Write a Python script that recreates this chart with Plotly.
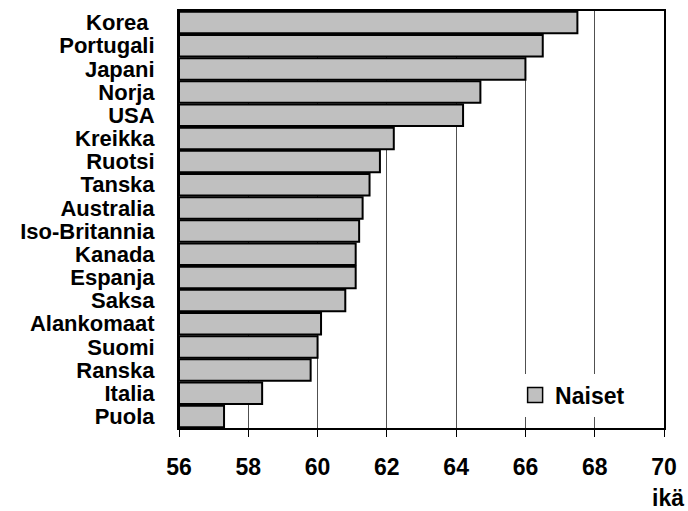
import plotly.graph_objects as go

# Countries, top to bottom, and the women's average effective retirement age
countries = ["Korea ", "Portugali", "Japani", "Norja", "USA", "Kreikka", "Ruotsi",
             "Tanska", "Australia", "Iso-Britannia", "Kanada", "Espanja", "Saksa",
             "Alankomaat", "Suomi", "Ranska", "Italia", "Puola"]
naiset = [67.5, 66.5, 66.0, 64.7, 64.2, 62.2, 61.8, 61.5, 61.3, 61.2, 61.1, 61.1,
          60.8, 60.1, 60.0, 59.8, 58.4, 57.3]
x_ticks = [56, 58, 60, 62, 64, 66, 68, 70]
series_name = "Naiset"
x_title = "ikä"

FONT = "Liberation Sans, Arial, sans-serif"
BAR_FILL = "#c0c0c0"

fig = go.Figure()
fig.add_trace(go.Bar(
    y=countries,
    x=[v - x_ticks[0] for v in naiset],
    base=x_ticks[0],
    orientation="h",
    name=series_name,
    marker=dict(color=BAR_FILL, line=dict(color="black", width=2)),
    showlegend=False,
))
# legend entry with a larger square swatch than the default bar symbol
fig.add_trace(go.Scatter(
    x=[None], y=[None], mode="markers", name=series_name,
    marker=dict(symbol="square", size=15, color=BAR_FILL,
                line=dict(color="black", width=1.5)),
    showlegend=True, hoverinfo="skip",
))

fig.update_layout(
    width=688, height=511,
    margin=dict(l=179, r=24, t=9, b=83),
    paper_bgcolor="white", plot_bgcolor="white",
    bargap=0.07,
    font=dict(family=FONT, color="black"),
    showlegend=True,
    legend=dict(
        x=0.693, y=0.079, xanchor="left", yanchor="middle",
        bgcolor="white", borderwidth=0, itemsizing="trace",
        font=dict(family=FONT, size=23, color="black", weight="bold"),
    ),
    xaxis=dict(
        range=[x_ticks[0], x_ticks[-1]],
        tickmode="array",
        tickvals=x_ticks,
        ticktext=[str(t) for t in x_ticks],
        tickfont=dict(family=FONT, size=23, color="black", weight="bold"),
        ticks="outside", ticklen=7, tickwidth=1, tickcolor="black",
        ticklabelstandoff=10,
        showgrid=True, gridcolor="#505050", gridwidth=1,
        showline=True, linecolor="black", linewidth=2, mirror=True,
        zeroline=False,
    ),
    yaxis=dict(
        autorange="reversed",
        tickmode="array",
        tickvals=countries,
        ticktext=countries,
        tickfont=dict(family=FONT, size=22, color="black", weight="bold"),
        ticks="", ticklabelstandoff=18,
        showgrid=False,
        showline=True, linecolor="black", linewidth=2, mirror=True,
    ),
    annotations=[dict(
        text=x_title, xref="paper", yref="paper",
        x=1.008, y=-0.1675, xanchor="center", yanchor="middle",
        showarrow=False,
        font=dict(family=FONT, size=23, color="black", weight="bold"),
    )],
)

fig.write_html("out.html")
